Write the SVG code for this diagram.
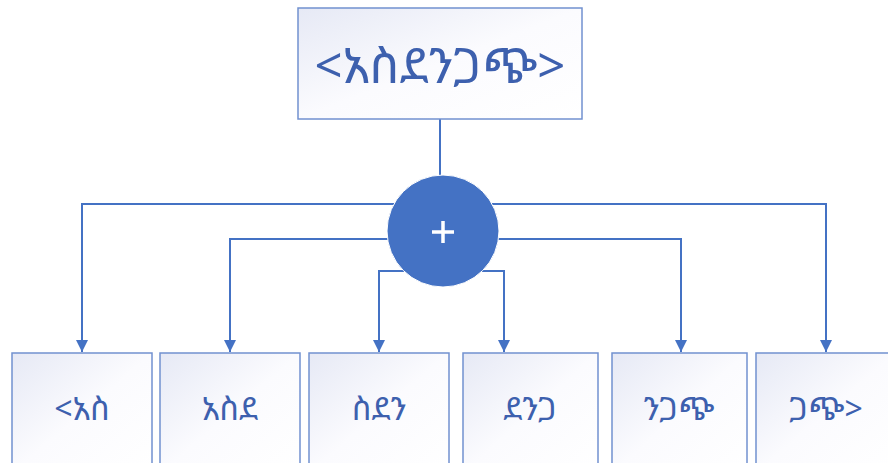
<svg xmlns="http://www.w3.org/2000/svg" width="888" height="463" viewBox="0 0 888 463">
  <defs>
    <linearGradient id="boxFill" x1="0" y1="0" x2="1" y2="1">
      <stop offset="0" stop-color="#e6e9f5"/>
      <stop offset="0.5" stop-color="#fbfbfe"/>
      <stop offset="1" stop-color="#ffffff"/>
    </linearGradient>
    <marker id="arrow" viewBox="0 0 10 10" refX="10" refY="5" markerWidth="6" markerHeight="7" markerUnits="strokeWidth" orient="auto">
      <path d="M0,0 L10,5 L0,10 Z" fill="#4472c4"/>
    </marker>
    <style>
      .box { fill: url(#boxFill); stroke: #7291d0; stroke-width: 1.5; }
      .lbl { font-family: "Noto Sans Ethiopic", "Abyssinica SIL", "Noto Sans", "DejaVu Sans", sans-serif; fill: #3d60ae; text-anchor: middle; dominant-baseline: central; }
      .big { font-size: 49px; }
      .small { font-size: 32px; }
      .wire { fill: none; stroke: #4472c4; stroke-width: 2; }
    </style>
  </defs>
  <rect width="888" height="463" fill="#ffffff"/>

  <g id="connectors">
    <line class="wire" x1="440" y1="119" x2="440" y2="178"/>
    <path class="wire" d="M400,204 H82 V352" marker-end="url(#arrow)"/>
    <path class="wire" d="M390,239 H230 V352" marker-end="url(#arrow)"/>
    <path class="wire" d="M410,271 H379 V352" marker-end="url(#arrow)"/>
    <path class="wire" d="M476,271 H504 V352" marker-end="url(#arrow)"/>
    <path class="wire" d="M496,239 H681 V352" marker-end="url(#arrow)"/>
    <path class="wire" d="M486,204 H826 V352" marker-end="url(#arrow)"/>
  </g>

  <g id="root">
    <rect class="box" x="298" y="8" width="284" height="111"/>
    <text class="lbl big" x="440" y="64">&lt;አስደንጋጭ&gt;</text>
  </g>

  <g id="join">
    <circle cx="443" cy="231" r="56" fill="#4472c4" stroke="#ffffff" stroke-width="1"/>
    <path d="M432,232 H454 M443,221 V243" stroke="#ffffff" stroke-width="3.5" fill="none"/>
  </g>

  <g id="n1">
    <rect class="box" x="12" y="353" width="140" height="120"/>
    <text class="lbl small" x="82" y="407">&lt;አስ</text>
  </g>
  <g id="n2">
    <rect class="box" x="160" y="353" width="140" height="120"/>
    <text class="lbl small" x="230" y="407">አስደ</text>
  </g>
  <g id="n3">
    <rect class="box" x="309" y="353" width="140" height="120"/>
    <text class="lbl small" x="379" y="407">ስደን</text>
  </g>
  <g id="n4">
    <rect class="box" x="463" y="353" width="135" height="120"/>
    <text class="lbl small" x="530" y="407">ደንጋ</text>
  </g>
  <g id="n5">
    <rect class="box" x="612" y="353" width="135" height="120"/>
    <text class="lbl small" x="679" y="407">ንጋጭ</text>
  </g>
  <g id="n6">
    <rect class="box" x="756" y="353" width="140" height="120"/>
    <text class="lbl small" x="826" y="407">ጋጭ&gt;</text>
  </g>
</svg>
